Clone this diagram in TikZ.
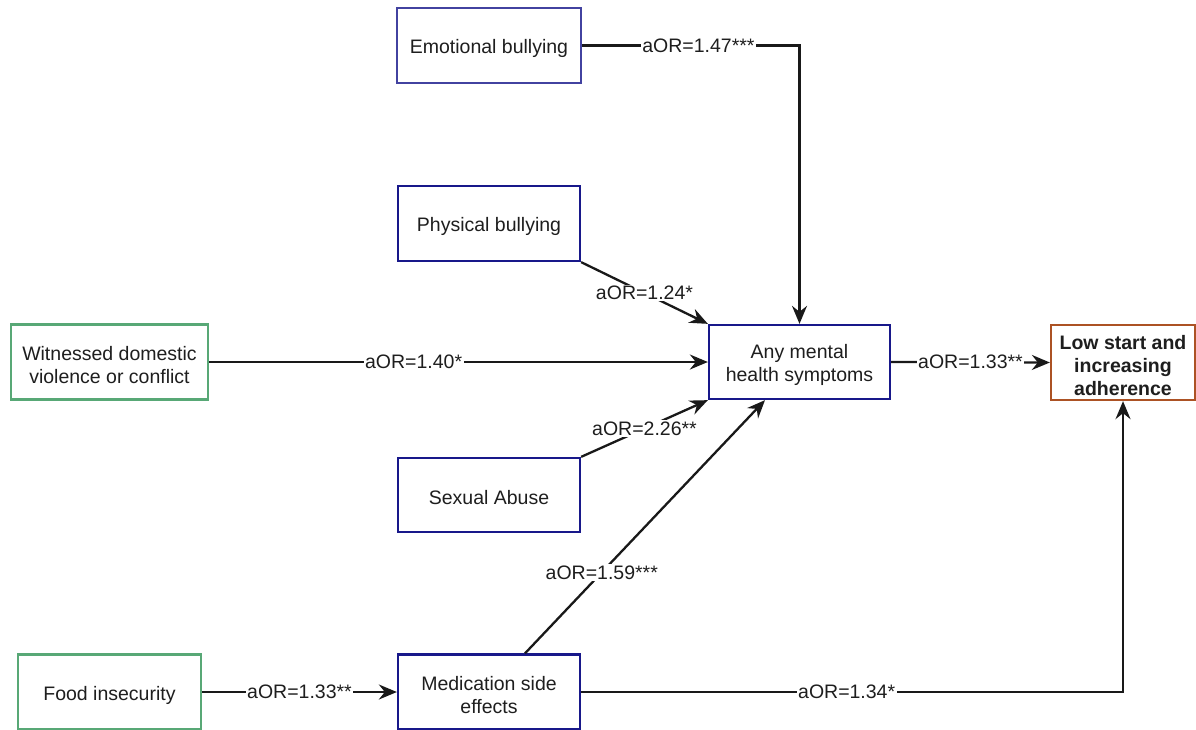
\documentclass[tikz,border=0pt]{standalone}
\usepackage{fontspec}
\setmainfont{Liberation Sans}
\usetikzlibrary{arrows.meta}
\definecolor{navyline}{RGB}{24,24,138}
\definecolor{violetline}{RGB}{66,66,160}
\definecolor{greenline}{RGB}{88,168,118}
\definecolor{brownline}{RGB}{172,82,36}
\definecolor{textgray}{RGB}{30,30,30}
\begin{document}
\begin{tikzpicture}[x=1pt,y=-1pt,
  font=\fontsize{19.5}{23}\selectfont,
  box/.style={draw=navyline, line width=2.3pt, fill=white,
    inner sep=0pt, minimum height=75pt,
    label={[boxtext]center:#1}},
  boxtext/.style={align=center, text=textgray, yshift=-3pt, inner sep=0pt},
  link/.style={line width=2.3pt, draw=black!90,
    -{Stealth[length=18pt,width=15pt,inset=6pt]}},
  lbl/.style={fill=white, inner sep=1.5pt, text=textgray}]
\useasboundingbox (0,0) rectangle (1196,729);

% boxes; the text of each box is set as its centred label
\node[box={Emotional bullying}, draw=violetline, minimum width=184pt] (emo) at (489,45.5) {};
\node[box={Physical bullying}, minimum width=182pt] (phys) at (489,223.5) {};
\node[box={Witnessed domestic\\violence or conflict}, draw=greenline, minimum width=197pt] (wit) at (109.5,362) {};
\node[box={Any mental\\health symptoms}, minimum width=181pt, minimum height=74pt] (any) at (799.5,362) {};
\node[box={\textbf{Low start and}\\\textbf{increasing}\\\textbf{adherence}}, draw=brownline, minimum width=144pt] (low) at (1123,362.5) {};
\node[box={Sexual Abuse}, minimum width=182pt, minimum height=74pt] (sex) at (489,495) {};
\node[box={Food insecurity}, draw=greenline, minimum width=183pt] (food) at (109.5,692) {};
\node[box={Medication side\\effects}, minimum width=182pt] (med) at (489,692) {};

% connectors
\draw[link] (emo.east) -- node[lbl, pos=0.535] {aOR=1.47***} (emo.east -| any.north) -- (any.north);
\draw[link] (phys.south east) -- node[lbl] {aOR=1.24*} (any.north west);
\draw[link] (wit.east) -- node[lbl, pos=0.41] {aOR=1.40*} (any.west);
\draw[link] (sex.north east) -- node[lbl] {aOR=2.26**} (any.south west);
\draw[link] ([xshift=36pt]med.north) -- node[lbl, pos=0.32] {aOR=1.59***} ([xshift=-34.5pt]any.south);
\draw[link] (any.east) -- node[lbl] {aOR=1.33**} (low.west);
\draw[link] (food.east) -- node[lbl] {aOR=1.33**} (med.west);
\coordinate (turn) at (med.east -| low.south);
\draw[link] (med.east) -- node[lbl, pos=0.49] {aOR=1.34*} (turn) -- (low.south);
\end{tikzpicture}
\end{document}
